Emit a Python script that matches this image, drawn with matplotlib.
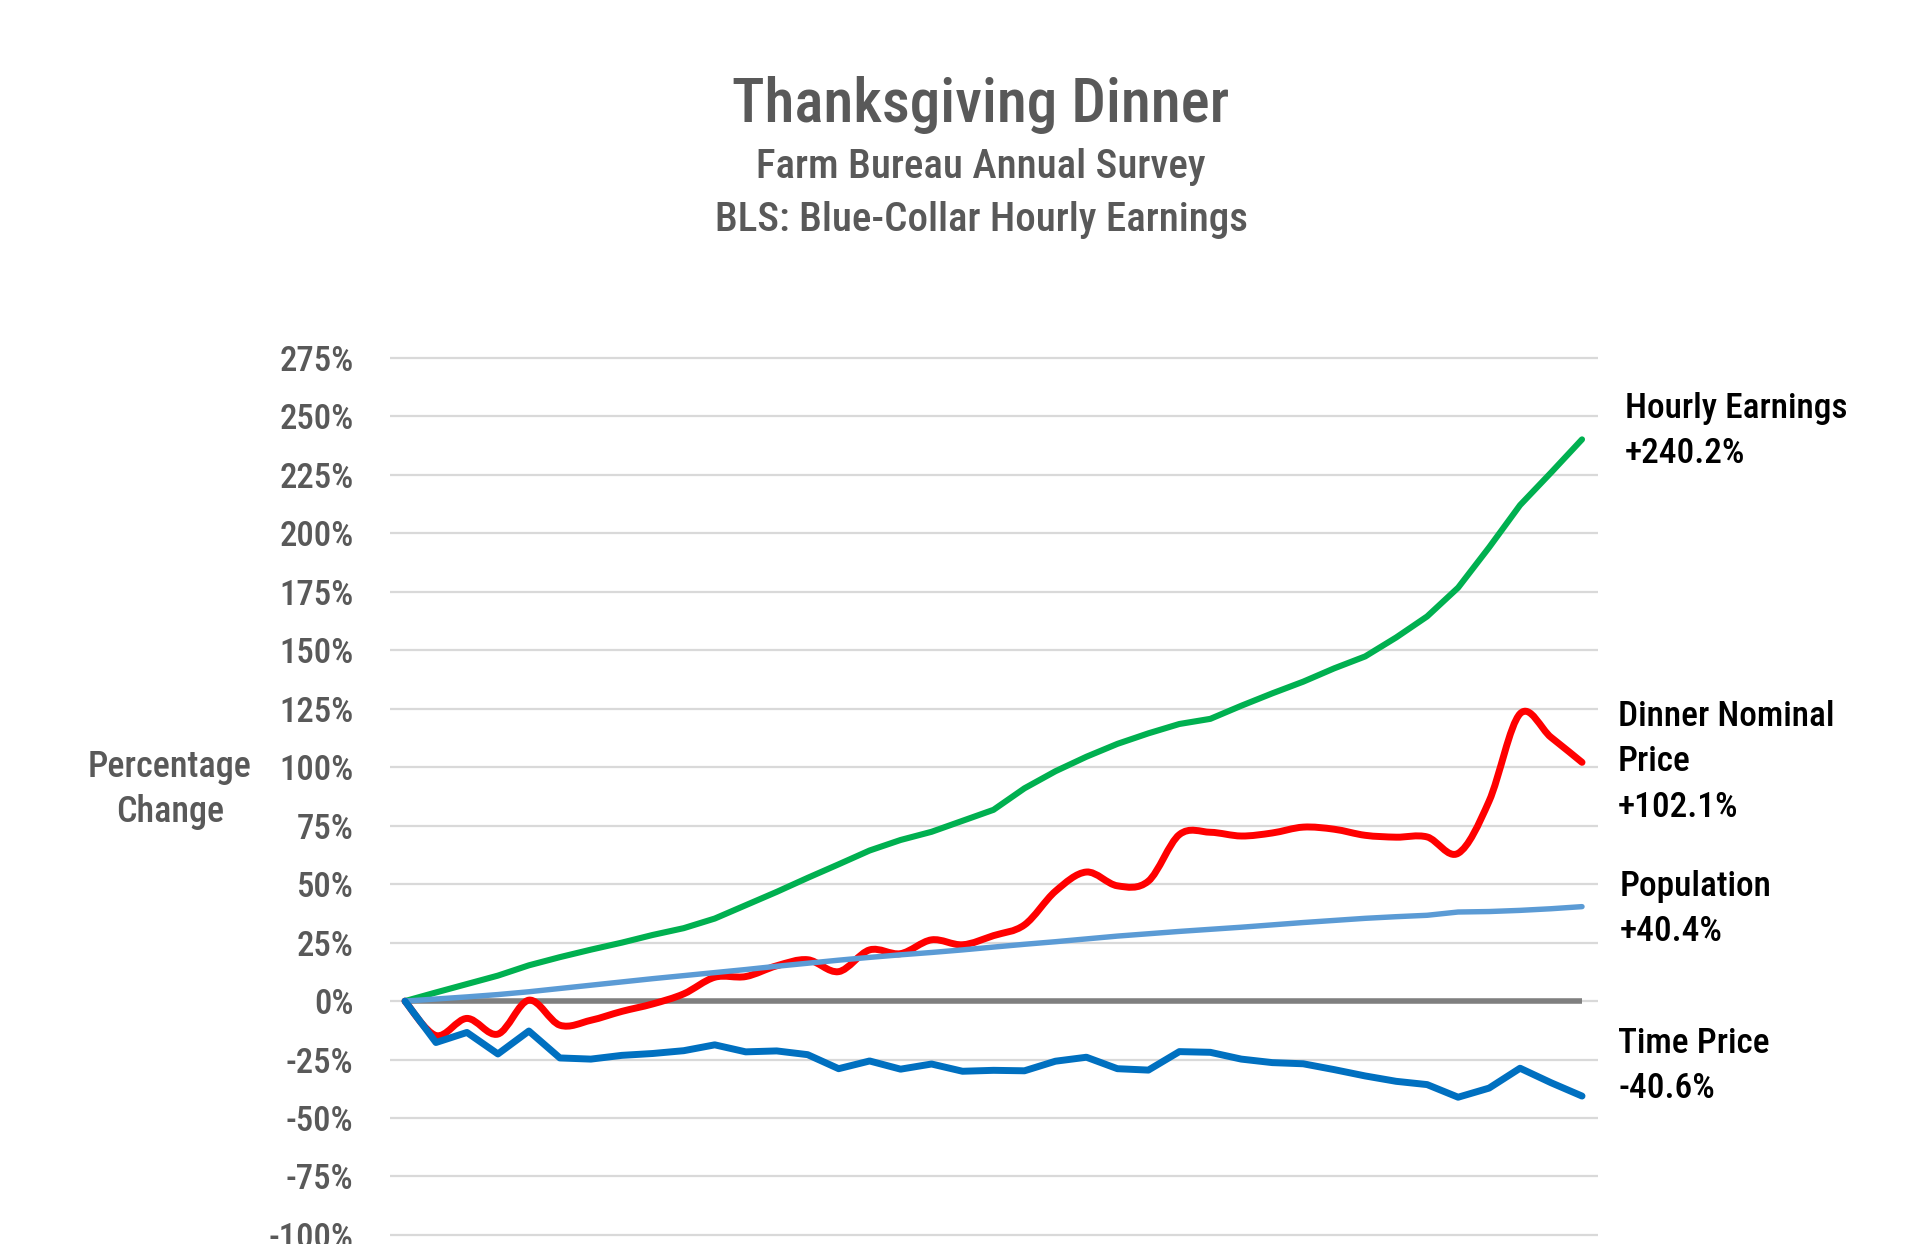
import numpy as np
import matplotlib
matplotlib.use("Agg")
import matplotlib.pyplot as plt
from matplotlib import font_manager
from matplotlib.path import Path
from matplotlib.patches import PathPatch
from matplotlib.ticker import MultipleLocator, FuncFormatter

# Survey years, 1986 = base year
years = list(range(1986, 2025))

# percentage change since 1986
hourly_earnings = [0, 3.7, 7.3, 10.9, 15.3, 18.8, 22.0, 25.0, 28.3, 31.2,
                   35.3, 41.0, 46.7, 52.7, 58.5, 64.4, 68.9, 72.4, 77.1, 81.8,
                   91.0, 98.3, 104.5, 110.0, 114.5, 118.5, 120.7, 126.3, 131.6, 136.6,
                   142.3, 147.4, 155.5, 164.5, 176.8, 194.0, 212.1, 226.0, 240.2]
dinner_price = [0, -14.7, -7.4, -14.1, 0.4, -10.3, -8.2, -4.4, -1.2, 3.1,
                10.2, 10.5, 15.1, 17.7, 12.6, 21.9, 20.3, 26.2, 24.1, 28.0,
                32.6, 47.0, 55.2, 49.3, 51.3, 71.2, 72.2, 70.6, 71.9, 74.4,
                73.5, 70.9, 70.1, 70.2, 63.2, 85.5, 122.9, 112.8, 102.1]
population = [0, 0.9, 1.8, 2.8, 4.0, 5.4, 6.8, 8.2, 9.6, 10.9,
              12.2, 13.5, 14.9, 16.2, 17.5, 18.7, 19.8, 20.8, 21.9, 23.1,
              24.3, 25.4, 26.6, 27.8, 28.8, 29.8, 30.7, 31.6, 32.6, 33.6,
              34.5, 35.4, 36.1, 36.7, 38.1, 38.3, 38.8, 39.5, 40.4]
time_price = [0, -17.7, -13.4, -22.6, -12.8, -24.3, -24.8, -23.2, -22.4, -21.2,
              -18.7, -21.7, -21.3, -22.9, -28.9, -25.6, -29.1, -26.9, -30.0, -29.6,
              -29.8, -25.7, -24.0, -28.9, -29.5, -21.6, -21.9, -24.8, -26.3, -26.8,
              -29.3, -32.0, -34.3, -35.7, -41.1, -37.2, -28.7, -34.9, -40.6]

labels = [("Hourly Earnings", "+240.2%"),
          ("Dinner Nominal", "Price", "+102.1%"),
          ("Population", "+40.4%"),
          ("Time Price", "-40.6%")]

# pick a narrow font if one is there
fonts = font_manager.fontManager.ttflist
names = {f.name for f in fonts}
family, stretch, k = "DejaVu Sans", "normal", 0.78
if "Roboto Condensed" in names:
    family, stretch, k = "Roboto Condensed", "normal", 1.0
elif "Liberation Sans Narrow" in names:
    family, stretch, k = "Liberation Sans Narrow", "normal", 1.0
elif any(f.name == "DejaVu Sans" and f.stretch == "condensed" for f in fonts):
    family, stretch, k = "DejaVu Sans", "condensed", 0.88
elif "Roboto" in names:
    family, stretch, k = "Roboto", "normal", 0.86
plt.rcParams["font.family"] = family
plt.rcParams["font.stretch"] = stretch

# heavier faces, if the family has them
weights = {f.weight for f in fonts if f.name == family}
MED = 500 if 500 in weights else "normal"
HEAVY = 600 if 600 in weights else (500 if 500 in weights else "bold")

W, H = 1923, 1244
GREY = "#595959"


def fx(px):
    return px / W


def fy(py):
    return 1 - py / H


def smooth(x, y):
    # excel style smoothed line: bezier through every point
    pts = np.column_stack([x, y]).astype(float)
    n = len(pts)
    verts, codes = [pts[0]], [Path.MOVETO]
    for i in range(n - 1):
        p0 = pts[max(i - 1, 0)]
        p1, p2 = pts[i], pts[i + 1]
        p3 = pts[min(i + 2, n - 1)]
        verts += [p1 + (p2 - p0) / 6, p2 - (p3 - p1) / 6, p2]
        codes += [Path.CURVE4] * 3
    return Path(verts, codes)


fig = plt.figure(figsize=(W / 100, H / 100), dpi=100)
ax = fig.add_axes([fx(389.5), fy(1237.3), fx(1208), 0.7087])

x = np.arange(len(years))
ax.hlines(0, x[0], x[-1], color="#7F7F7F", lw=4.0, zorder=2)
ax.plot(x, hourly_earnings, color="#00B050", lw=4.4, zorder=3,
        solid_capstyle="round", solid_joinstyle="round")
ax.add_patch(PathPatch(smooth(x, dinner_price), fill=False, edgecolor="#FF0000",
                       lw=5.0, capstyle="round", joinstyle="round", zorder=3))
ax.plot(x, population, color="#5B9BD5", lw=3.9, zorder=4,
        solid_capstyle="round", solid_joinstyle="round")
ax.plot(x, time_price, color="#0070C0", lw=5.0, zorder=4,
        solid_capstyle="round", solid_joinstyle="round")

ax.set_xlim(-0.5, len(years) - 0.5)
ax.set_ylim(-101, 276)
ax.yaxis.set_major_locator(MultipleLocator(25))
ax.yaxis.set_major_formatter(FuncFormatter(lambda v, p: f"{v:.0f}%"))
ax.yaxis.grid(True, color="#D9D9D9", lw=1.6)
ax.set_axisbelow(True)
ax.set_xticks([])
ax.tick_params(axis="y", length=0, pad=26, labelsize=25 * k, labelcolor=GREY)
for t in ax.get_yticklabels():
    t.set_fontweight(MED)
for s in ax.spines.values():
    s.set_visible(False)

# titles
fig.text(fx(981), fy(122), "Thanksgiving Dinner", ha="center", va="baseline",
         fontsize=44 * k, color=GREY, fontweight=HEAVY)
fig.text(fx(981), fy(178), "Farm Bureau Annual Survey", ha="center", va="baseline",
         fontsize=29.5 * k, color=GREY, fontweight=MED)
fig.text(fx(981), fy(231), "BLS: Blue-Collar Hourly Earnings", ha="center",
         va="baseline", fontsize=29.5 * k, color=GREY, fontweight=MED)

fig.text(fx(170), fy(777), "Percentage", ha="center", va="baseline",
         fontsize=26 * k, color=GREY, fontweight=MED)
fig.text(fx(170), fy(822), "Change", ha="center", va="baseline",
         fontsize=26 * k, color=GREY, fontweight=MED)

# end labels, one line at a time
starts = [(1625, 418), (1618, 726), (1620, 896), (1618, 1053)]
for (px, py), lines in zip(starts, labels):
    for j, line in enumerate(lines):
        fig.text(fx(px), fy(py + j * 45.4), line, ha="left", va="baseline",
                 fontsize=25.5 * k, color="black", fontweight=MED)

fig.savefig("out.png", dpi=100, facecolor="white")
